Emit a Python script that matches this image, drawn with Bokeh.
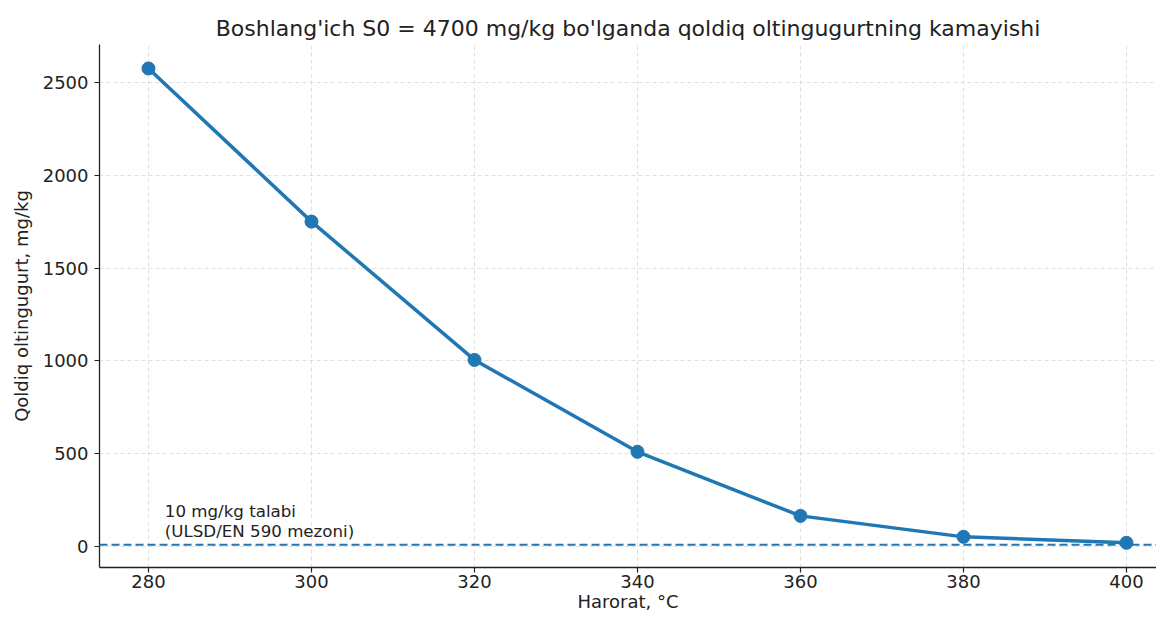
from bokeh.plotting import figure
from bokeh.models import Range1d, FixedTicker, Span, Label
from bokeh.embed import file_html
from bokeh.resources import INLINE

temps = [280, 300, 320, 340, 360, 380, 400]
sulfur = [2575, 1750, 1005, 510, 165, 52, 20]
limit = 10
x_ticks = [280, 300, 320, 340, 360, 380, 400]
y_ticks = [0, 500, 1000, 1500, 2000, 2500]
title = "Boshlang'ich S0 = 4700 mg/kg bo'lganda qoldiq oltingugurtning kamayishi"
xlabel = "Harorat, °C"
ylabel = "Qoldiq oltingugurt, mg/kg"
note = "10 mg/kg talabi\n(ULSD/EN 590 mezoni)"

FONT = "DejaVu Sans"
BLUE = "#1f77b4"

p = figure(width=1156, height=614, output_backend="svg", toolbar_location=None,
           x_range=Range1d(273.99, 403.68), y_range=Range1d(-113, 2704),
           min_border_left=99, min_border_right=0, min_border_top=44, min_border_bottom=45)
p.title.text = title
p.title.align = "center"
p.title.text_font = FONT
p.title.text_font_size = "16.5pt"
p.title.text_font_style = "normal"
p.title.text_color = "#222222"
p.title.offset = 0
p.title.standoff = 8

for ax in (p.xaxis, p.yaxis):
    ax.axis_line_color = "#222222"
    ax.axis_line_width = 1.3
    ax.major_tick_line_color = "#222222"
    ax.major_tick_line_width = 1.2
    ax.major_tick_out = 5
    ax.major_tick_in = 0
    ax.minor_tick_line_color = None
    ax.major_label_text_font = FONT
    ax.major_label_text_font_size = "13.5pt"
    ax.major_label_text_color = "#222222"
    ax.axis_label_text_font = FONT
    ax.axis_label_text_font_size = "13.5pt"
    ax.axis_label_text_font_style = "normal"
    ax.axis_label_text_color = "#222222"

p.xaxis.ticker = FixedTicker(ticks=x_ticks)
p.yaxis.ticker = FixedTicker(ticks=y_ticks)
p.xaxis.axis_label = xlabel
p.yaxis.axis_label = ylabel
p.xaxis.major_label_standoff = 2
p.yaxis.major_label_standoff = 6
p.xaxis.axis_label_standoff = 0
p.yaxis.axis_label_standoff = 8

p.outline_line_color = None
p.grid.grid_line_color = "#cccccc"
p.grid.grid_line_alpha = 0.6
p.grid.grid_line_dash = "4 3"
p.grid.grid_line_width = 1

p.add_layout(Span(location=limit, dimension="width", line_color=BLUE,
                  line_dash="8 4", line_width=2))

p.line(temps, sulfur, line_color=BLUE, line_width=3.5)
p.scatter(temps, sulfur, size=13, fill_color=BLUE, line_color=BLUE)

p.add_layout(Label(x=282, y=30, text=note, text_font=FONT, text_font_size="12.5pt",
                   text_color="#222222", text_baseline="bottom", text_align="left",
                   text_line_height=1.05))

open("out.html", "w").write(file_html(p, INLINE))
